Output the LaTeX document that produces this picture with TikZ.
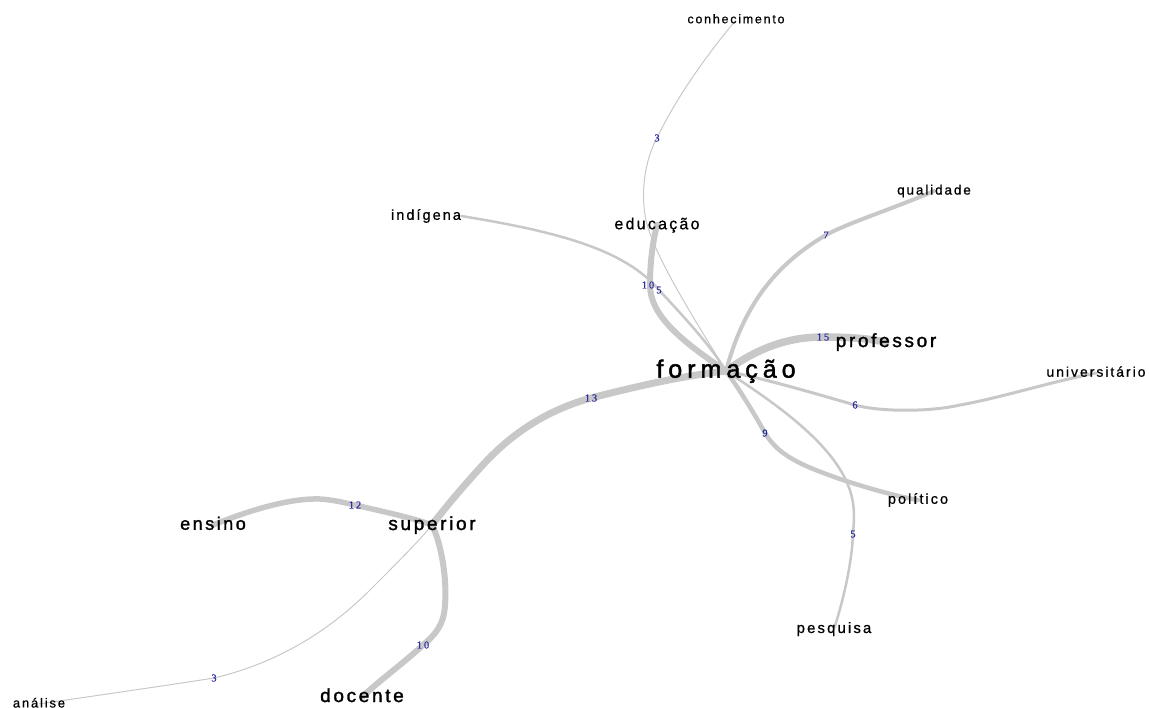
\documentclass[tikz,border=0pt]{standalone}
\usepackage{fontspec}
\setmainfont{Liberation Sans}[LetterSpace=14, FakeBold=0.8]
\newfontfamily\numfont{Liberation Serif}[LetterSpace=18, FakeBold=0.6]
\usepackage{xcolor}
\usepackage{tikz}
\usetikzlibrary{backgrounds}

\definecolor{edgegray}{RGB}{200,200,200}
\definecolor{wblue}{RGB}{45,45,165}

\tikzset{
	word/.style={inner sep=0pt, font=\fontsize{#1}{#1}\selectfont,
		execute at begin node={\rule[-0.22em]{0pt}{0.97em}}},
	bigword/.style={word=#1, font=\fontsize{#1}{#1}\selectfont\addfontfeature{FakeBold=1.6}},
	link/.style={draw=edgegray, line width=#1, line cap=round},
	wlab/.style={inner sep=0pt, text=wblue, font=\numfont\fontsize{10.5}{10.5}\selectfont}
}

\begin{document}
\begin{tikzpicture}[x=1pt, y=-1pt]
	\useasboundingbox (0,0) rectangle (1149,708);

	\node[bigword=25, font=\fontsize{25}{25}\selectfont\addfontfeature{LetterSpace=20, FakeBold=1.8}] (formacao) at (726,371) {formação};
	\node[bigword=19] (professor) at (886,342) {professor};
	\node[word=14] (universitario) at (1096,373) {universitário};
	\node[word=14.5] (politico) at (918,500) {político};
	\node[word=15] (pesquisa) at (834,629) {pesquisa};
	\node[word=13.5] (qualidade) at (934,191) {qualidade};
	\node[word=16] (educacao) at (657,225) {educação};
	\node[word=14.5] (indigena) at (426,216) {indígena};
	\node[word=12.5] (conhecimento) at (736,20) {conhecimento};

	\node[bigword=19] (superior) at (432,525) {superior};
	\node[bigword=18] (ensino) at (213,525) {ensino};
	\node[bigword=19] (docente) at (362,697) {docente};
	\node[word=13] (analise) at (39,704) {análise};

	\begin{scope}[on background layer]
		% around formação
		\draw[link=1pt] (conhecimento.center) .. controls (715,45) and (680,90) .. (657,138) coordinate (wC)
			.. controls (645,160) and (641,190) .. (645,215) .. controls (650,250) and (695,320) .. (formacao.center);
		\draw[link=6pt] (educacao.center) .. controls (652,245) and (650,265) .. (650,285) coordinate (wE)
			.. controls (650,315) and (680,340) .. (formacao.center);
		\draw[link=2.5pt] (indigena.east) .. controls (560,232) and (625,250) .. (659,290) coordinate (wI)
			.. controls (685,318) and (710,345) .. (formacao.center);
		\draw[link=4pt] (qualidade.center) .. controls (890,210) and (850,222) .. (826,235) coordinate (wQ)
			.. controls (780,262) and (745,300) .. (formacao.center);
		\draw[link=7.5pt] (formacao.center) .. controls (755,350) and (785,337) .. (823,337) coordinate (wP)
			.. controls (845,337) and (865,338) .. (professor.center);
		\draw[link=3pt] (formacao.center) .. controls (770,380) and (820,395) .. (855,405) coordinate (wU)
			.. controls (880,412) and (930,412) .. (960,405) .. controls (1000,398) and (1050,382) .. (universitario.center);
		\draw[link=4.5pt] (formacao.center) .. controls (740,390) and (755,415) .. (765,433) coordinate (wPo)
			.. controls (778,455) and (800,465) .. (840,479) .. controls (870,489) and (900,497) .. (politico.center);
		\draw[link=2.5pt] (formacao.center) .. controls (770,400) and (830,440) .. (848,485)
			.. controls (856,505) and (854,520) .. (853,534) coordinate (wPe)
			.. controls (852,560) and (845,595) .. (pesquisa.center);

		% around superior
		\draw[link=7pt] (formacao.center) .. controls (680,376) and (630,388) .. (591,398) coordinate (wS)
			.. controls (540,412) and (505,440) .. (480,468) .. controls (460,490) and (445,508) .. (superior.center);
		\draw[link=5.5pt] (ensino.center) .. controls (250,510) and (290,498) .. (320,499)
			.. controls (335,500) and (345,503) .. (355,505) coordinate (wEn)
			.. controls (380,511) and (410,517) .. (superior.center);
		\draw[link=6pt] (superior.center) .. controls (442,545) and (447,580) .. (445,605)
			.. controls (444,625) and (435,635) .. (423,645) coordinate (wD)
			.. controls (405,662) and (380,680) .. (docente.center);
		\draw[link=1pt] (analise.center) .. controls (100,695) and (170,685) .. (214,678) coordinate (wA)
			.. controls (290,660) and (340,620) .. (370,590) .. controls (395,565) and (420,540) .. (superior.center);
	\end{scope}

	% weights
	\node[wlab] (nC) at (wC) {3};
	\node[wlab] (nE) at ([xshift=-2pt]wE) {10};
	\node[wlab] (nI) at (wI) {5};
	\node[wlab] (nQ) at (wQ) {7};
	\node[wlab] (nP) at (wP) {15};
	\node[wlab] (nU) at (wU) {6};
	\node[wlab] (nPo) at (wPo) {9};
	\node[wlab] (nPe) at (wPe) {5};
	\node[wlab] (nS) at (wS) {13};
	\node[wlab] (nEn) at (wEn) {12};
	\node[wlab] (nD) at (wD) {10};
	\node[wlab] (nA) at (wA) {3};
\end{tikzpicture}
\end{document}
